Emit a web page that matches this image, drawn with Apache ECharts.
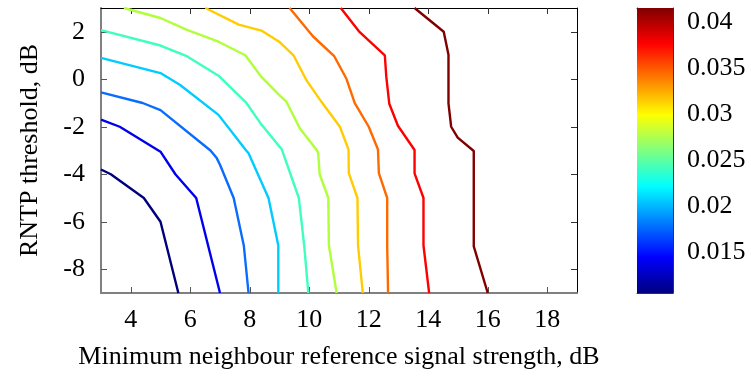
<!DOCTYPE html>
<html>
<head>
<meta charset="utf-8">
<script src="https://cdn.jsdelivr.net/npm/echarts@6/dist/echarts.min.js"></script>
<style>html,body{margin:0;padding:0;background:#fff}#c{width:751px;height:376px}</style>
</head>
<body>
<div id="c"></div>
<script>
// Axis tick labels
const xTicks = [4, 6, 8, 10, 12, 14, 16, 18];
const yTicks = [-8, -6, -4, -2, 0, 2];
const cbTicks = [0.015, 0.02, 0.025, 0.03, 0.035, 0.04];
const cbRange = [0.0105, 0.04156];

// Contour lines: [min neighbour RSS (dB), RNTP threshold (dB)]
const contour1 = [[3, -3.8], [3.33, -4], [4.44, -5], [5, -6], [5.6, -9]];
const contour2 = [[3, -1.7], [3.63, -2], [5, -3.05], [5.5, -4], [6.2, -5], [7, -9]];
const contour3 = [[3, -0.55], [4.4, -1], [5, -1.3], [6.68, -3], [6.89, -3.32], [7, -3.6], [7.46, -5], [7.8, -7], [7.96, -9]];
const contour4 = [[3, 0.9], [5, 0.26], [5.66, -0.24], [6.95, -1.5], [7.88, -3], [7.96, -3.12], [8.63, -5], [8.96, -7], [8.96, -9]];
const contour5 = [[3, 2.07], [5, 1.42], [5.9, 0.96], [6.95, 0.15], [7.87, -0.97], [8.4, -1.92], [9.08, -2.96], [9.12, -3.04], [9.65, -5], [9.83, -7], [9.97, -9]];
const contour6 = [[3.77, 3], [5, 2.58], [5.89, 2.08], [6.95, 1.58], [7.85, 1.01], [8.39, 0.1], [9.02, -0.7], [9.23, -0.94], [9.68, -2.06], [10.25, -2.98], [10.3, -3.1], [10.35, -4], [10.64, -5], [10.66, -7], [10.92, -9]];
const contour7 = [[6.51, 3], [7.63, 2.3], [8.39, 2.05], [8.99, 1.58], [9.47, 1.01], [9.91, -0.05], [10.41, -0.95], [11.03, -2], [11.32, -2.96], [11.33, -3.95], [11.62, -5], [11.64, -7], [11.8, -9]];
const contour8 = [[9.34, 3], [10.13, 1.8], [10.84, 0.97], [11.25, 0.02], [11.53, -1.01], [12.0, -2], [12.31, -2.96], [12.34, -3.95], [12.62, -5], [12.62, -7], [12.65, -9]];
const contour9 = [[11.06, 3], [11.67, 2.02], [12.54, 1.01], [12.59, 0.1], [12.69, -1.03], [12.98, -1.96], [13.54, -2.98], [13.54, -3.96], [13.84, -5], [13.84, -7], [14.03, -9]];
const contour10 = [[13.54, 3], [14.52, 2], [14.68, 1.03], [14.68, -1.02], [14.77, -2], [14.99, -2.46], [15.53, -3.02], [15.53, -7.04], [16.0, -9]];

const contours = [contour1, contour2, contour3, contour4, contour5, contour6, contour7, contour8, contour9, contour10];
const lineColors = ['#00007a', '#0000ee', '#0a6cff', '#00ccff', '#3effbe', '#b0ff3a', '#ffcc00', '#ff6a00', '#ff0000', '#800000'];

const FONT = '"Liberation Serif", "Times New Roman", serif';
const FS = 26;

const chart = echarts.init(document.getElementById('c'), null, {renderer: 'canvas'});

const jet = new echarts.graphic.LinearGradient(0, 0, 0, 1, [
  {offset: 0, color: '#800000'},
  {offset: 0.125, color: '#ff0000'},
  {offset: 0.375, color: '#ffff00'},
  {offset: 0.625, color: '#00ffff'},
  {offset: 0.875, color: '#0000ff'},
  {offset: 1, color: '#000080'}
]);

const series = contours.map((d, i) => ({
  type: 'line',
  xAxisIndex: 0,
  yAxisIndex: 0,
  data: d,
  showSymbol: false,
  symbol: 'none',
  smooth: false,
  silent: true,
  lineStyle: {color: lineColors[i], width: 2.4},
  itemStyle: {color: lineColors[i]},
  z: 3
}));
series.push({
  type: 'bar',
  xAxisIndex: 2,
  yAxisIndex: 2,
  data: [cbRange[1]],
  barWidth: '100%',
  silent: true,
  itemStyle: {color: jet}
});

const tickStyle = (color) => ({show: true, inside: true, length: 6, lineStyle: {color: color, width: 1}});

chart.setOption({
  animation: false,
  backgroundColor: '#fff',
  grid: [
    {left: 101, top: 8, width: 476, height: 285, containLabel: false},
    {left: 637, top: 8, width: 36, height: 285, containLabel: false}
  ],
  xAxis: [
    {
      type: 'value', gridIndex: 0, min: 3, max: 19, position: 'bottom',
      axisLine: {show: true, onZero: false, lineStyle: {color: '#808080', width: 2}},
      axisTick: Object.assign(tickStyle('#555'), {customValues: xTicks}),
      axisLabel: {customValues: xTicks, fontFamily: FONT, fontSize: FS, color: '#000', margin: 14},
      splitLine: {show: false},
      name: 'Minimum neighbour reference signal strength, dB',
      nameLocation: 'middle', nameGap: 51,
      nameTextStyle: {fontFamily: FONT, fontSize: FS, color: '#000'}
    },
    {
      type: 'value', gridIndex: 0, min: 3, max: 19, position: 'top',
      axisLine: {show: true, onZero: false, lineStyle: {color: '#000', width: 1}},
      axisTick: Object.assign(tickStyle('#333'), {customValues: xTicks}),
      axisLabel: {show: false},
      splitLine: {show: false}
    },
    {
      type: 'category', gridIndex: 1, data: ['cb'], position: 'bottom',
      axisLine: {show: true, onZero: false, lineStyle: {color: '#333', width: 1}},
      axisTick: {show: false}, axisLabel: {show: false}, splitLine: {show: false}
    },
    {
      type: 'category', gridIndex: 1, data: ['cb'], position: 'top',
      axisLine: {show: true, onZero: false, lineStyle: {color: '#333', width: 1}},
      axisTick: {show: false}, axisLabel: {show: false}, splitLine: {show: false}
    }
  ],
  yAxis: [
    {
      type: 'value', gridIndex: 0, min: -9, max: 3, position: 'left',
      axisLine: {show: true, onZero: false, lineStyle: {color: '#808080', width: 2}},
      axisTick: Object.assign(tickStyle('#555'), {customValues: yTicks}),
      axisLabel: {customValues: yTicks, fontFamily: FONT, fontSize: FS, color: '#000', margin: 16},
      splitLine: {show: false},
      name: 'RNTP threshold, dB',
      nameLocation: 'middle', nameGap: 58, nameRotate: 90,
      nameTextStyle: {fontFamily: FONT, fontSize: FS, color: '#000'}
    },
    {
      type: 'value', gridIndex: 0, min: -9, max: 3, position: 'right',
      axisLine: {show: true, onZero: false, lineStyle: {color: '#000', width: 1}},
      axisTick: Object.assign(tickStyle('#333'), {customValues: yTicks}),
      axisLabel: {show: false},
      splitLine: {show: false}
    },
    {
      type: 'value', gridIndex: 1, min: cbRange[0], max: cbRange[1], position: 'right',
      axisLine: {show: true, onZero: false, lineStyle: {color: '#333', width: 1}},
      axisTick: {show: true, inside: true, length: 5, customValues: cbTicks, lineStyle: {color: '#000'}},
      axisLabel: {customValues: cbTicks, fontFamily: FONT, fontSize: FS, color: '#000', margin: 14,
        formatter: v => String(+(+v).toFixed(3))},
      splitLine: {show: false}
    },
    {
      type: 'value', gridIndex: 1, min: cbRange[0], max: cbRange[1], position: 'left',
      axisLine: {show: true, onZero: false, lineStyle: {color: '#333', width: 1}},
      axisTick: {show: true, inside: true, length: 5, customValues: cbTicks, lineStyle: {color: '#000'}},
      axisLabel: {show: false},
      splitLine: {show: false}
    }
  ],
  series: series
});
</script>
</body>
</html>
